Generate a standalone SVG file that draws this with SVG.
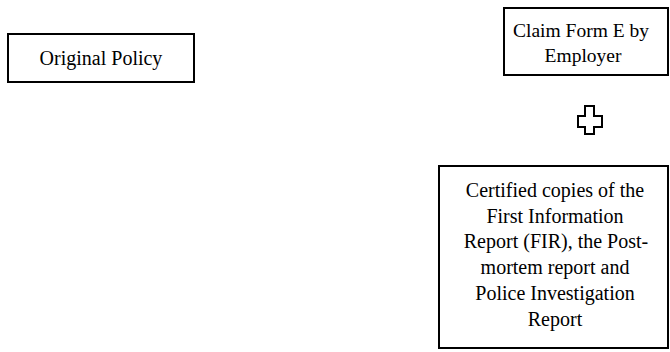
<svg xmlns="http://www.w3.org/2000/svg" width="670" height="352" viewBox="0 0 670 352">
<style>
.box{fill:#fff;stroke:#000;stroke-width:2}
.t{font-family:"Liberation Serif","Times New Roman",serif;font-size:20px;fill:#000;text-anchor:middle}
</style>
<rect width="670" height="352" fill="#fff"/>
<g id="original-policy">
<rect class="box" x="8" y="34" width="186" height="48"/>
<text class="t" x="101" y="65">Original Policy</text>
</g>
<g id="claim-form">
<rect class="box" x="504" y="8" width="164" height="67"/>
<text class="t" x="581" y="37" style="font-size:19.5px">Claim Form E by</text>
<text class="t" x="583" y="62" style="font-size:19.5px">Employer</text>
</g>
<g id="plus">
<polygon points="585,106 594,106 594,116 602,116 602,127 594,127 594,134 585,134 585,127 578,127 578,116 585,116" fill="#fff" stroke="#000" stroke-width="2"/>
</g>
<g id="certified-copies">
<rect class="box" x="439" y="166" width="229" height="182"/>
<text class="t" x="555" y="197">Certified copies of the</text>
<text class="t" x="555" y="223">First Information</text>
<text class="t" x="556" y="248">Report (FIR), the Post-</text>
<text class="t" x="555" y="274">mortem report and</text>
<text class="t" x="555" y="300">Police Investigation</text>
<text class="t" x="555" y="326">Report</text>
</g>
<g id="connectors"></g>
</svg>
